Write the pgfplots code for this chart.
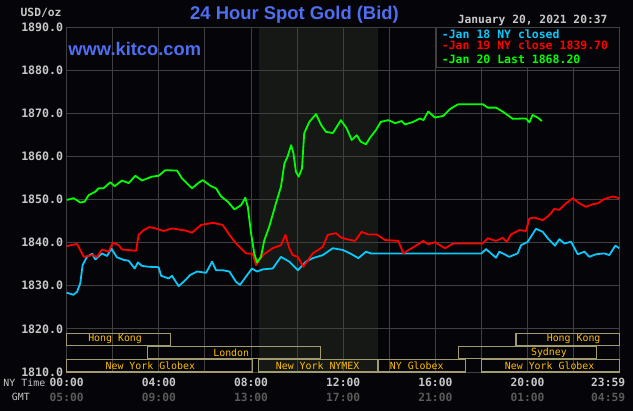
\documentclass[border=0pt]{standalone}
\usepackage{pgfplots}
\pgfplotsset{compat=1.18}
\usepackage{fontspec}
\setmainfont{Liberation Sans}
\newfontfamily\pixfont{DejaVu Sans Mono}
\definecolor{bg}{RGB}{5,4,8}
\definecolor{pitbg}{RGB}{21,24,21}
\definecolor{gridc}{RGB}{64,64,64}
\definecolor{lbl}{RGB}{200,200,200}
\definecolor{gmt}{RGB}{90,90,90}
\definecolor{ttl}{RGB}{80,110,240}
\definecolor{cy}{RGB}{10,200,250}
\definecolor{rd}{RGB}{255,0,0}
\definecolor{gn}{RGB}{0,255,0}
\definecolor{band}{RGB}{160,156,112}
\definecolor{bandtxt}{RGB}{255,190,0}
\tikzset{bl/.style={text=bandtxt, font=\pixfont\fontsize{9.9}{11}\selectfont, inner sep=0pt},
  lg/.style={anchor=west, inner sep=0pt, font=\pixfont\bfseries\fontsize{11.5}{13}\selectfont}}
\begin{document}
\begin{tikzpicture}
\fill[bg] (-66.7pt,-39pt) rectangle (566.3pt,372pt);
\path[use as bounding box] (-66.7pt,-39pt) rectangle (566.3pt,372pt);
\fill[pitbg] (192.0pt,0pt) rectangle (311.06pt,345pt);
\begin{axis}[at={(0pt,0pt)}, anchor=south west, scale only axis,
  width=553pt, height=345pt,
  xmin=0, xmax=24, ymin=1810, ymax=1890,
  clip=false,
  axis line style={gridc, line width=0.9pt},
  major tick length=0pt, tick style={draw=none},
  grid=major, major grid style={gridc, line width=0.9pt},
  xtick={0,2,...,24}, xticklabels={},
  ytick={1810,1820,...,1890},
  yticklabel style={font=\pixfont\bfseries\fontsize{11.6}{13}\selectfont, text=lbl,
    /pgf/number format/fixed, /pgf/number format/fixed zerofill, /pgf/number format/precision=1,
    /pgf/number format/1000 sep={}, /pgf/number format/assume math mode=true},
  xticklabel style={align=center, font=\pixfont\bfseries\fontsize{11.3}{14.3}\selectfont, yshift=-3pt},
  extra x ticks={0,4,8,12,16,20,23.5},
  extra x tick labels={{\textcolor{lbl}{00:00}\\\textcolor{gmt}{05:00}},
    {\textcolor{lbl}{04:00}\\\textcolor{gmt}{09:00}},
    {\textcolor{lbl}{08:00}\\\textcolor{gmt}{13:00}},
    {\textcolor{lbl}{12:00}\\\textcolor{gmt}{17:00}},
    {\textcolor{lbl}{16:00}\\\textcolor{gmt}{21:00}},
    {\textcolor{lbl}{20:00}\\\textcolor{gmt}{01:00}},
    {\textcolor{lbl}{23:59}\\\textcolor{gmt}{04:59}}},
  extra x tick style={grid=none, major tick length=0pt},
  axis background/.style={fill=none},
  every axis plot/.append style={line width=1.8pt, line join=round},
]
\addplot[cy] coordinates {
(0,1828.4) (0.29,1827.9) (0.45,1828.6) (0.59,1830.6) (0.69,1834.8) (0.88,1836.7)
(1.1,1837.4) (1.24,1836.1) (1.53,1837.5) (1.75,1836.9) (1.94,1838.6) (2.18,1836.6)
(2.47,1836.0) (2.69,1835.8) (2.95,1834.0) (3.09,1835.4) (3.27,1834.6) (3.56,1834.4)
(3.99,1834.3) (4.1,1832.3) (4.43,1831.7) (4.57,1832.3) (4.86,1829.9) (5.15,1831.3)
(5.36,1832.5) (5.66,1833.3) (6.05,1833.0) (6.31,1835.6) (6.48,1833.6) (6.77,1833.6)
(7.06,1833.3) (7.35,1830.9) (7.52,1830.2) (7.78,1832.1) (8.04,1834.0) (8.26,1833.3)
(8.51,1833.8) (8.94,1834.0) (9.3,1836.7) (9.66,1835.6) (10.03,1833.6) (10.39,1835.6)
(10.68,1836.4) (11.11,1837.1) (11.55,1838.7) (11.98,1838.3) (12.3,1837.5) (12.66,1836.4)
(12.99,1837.9) (13.2,1837.5) (18.0,1837.5) (18.2,1838.5) (18.63,1836.5) (18.78,1837.9)
(19.21,1836.7) (19.57,1837.5) (19.72,1839.4) (20.01,1840.2) (20.15,1841.4) (20.37,1843.2)
(20.66,1842.5) (20.88,1841.0) (21.19,1839.3) (21.38,1840.8) (21.6,1839.8) (21.89,1840.2)
(22.18,1837.3) (22.47,1837.9) (22.68,1836.7) (22.97,1837.3) (23.33,1837.5) (23.55,1837.1)
(23.81,1839.3) (23.98,1838.7)
};
\addplot[rd] coordinates {
(0,1839.2) (0.45,1839.7) (0.74,1836.7) (1.1,1837.1) (1.32,1836.7) (1.53,1838.4)
(1.82,1837.9) (2.0,1840.0) (2.26,1839.4) (2.4,1838.4) (3.01,1838.1) (3.12,1841.8)
(3.34,1842.9) (3.59,1843.6) (3.85,1843.3) (4.21,1842.7) (4.57,1843.3) (5.15,1842.8)
(5.44,1842.3) (5.83,1844.1) (6.34,1844.6) (6.77,1844.1) (7.06,1841.8) (7.35,1839.8)
(7.78,1837.5) (8.07,1837.4) (8.22,1834.8) (8.51,1837.1) (8.94,1838.7) (9.3,1839.4)
(9.49,1841.8) (9.66,1838.7) (9.81,1837.1) (10.03,1836.7) (10.27,1834.4) (10.68,1837.5)
(11.11,1839.0) (11.33,1841.8) (11.69,1842.2) (11.9,1841.2) (12.15,1840.8) (12.51,1840.4)
(12.8,1842.5) (13.09,1841.9) (13.45,1841.9) (13.82,1840.6) (14.39,1840.4) (14.61,1837.5)
(14.97,1838.7) (15.48,1840.4) (15.69,1839.6) (15.98,1840.1) (16.42,1838.7) (16.78,1839.8)
(18.06,1839.8) (18.27,1841.0) (18.63,1840.4) (18.92,1841.1) (19.1,1840.2) (19.28,1841.9)
(19.65,1842.9) (19.93,1842.7) (20.08,1845.6) (20.3,1845.8) (20.66,1845.2) (20.95,1846.4)
(21.16,1847.8) (21.38,1847.6) (21.67,1849.1) (21.96,1850.3) (22.25,1849.1) (22.54,1848.3)
(22.83,1848.9) (23.05,1849.1) (23.33,1850.1) (23.7,1850.7) (23.98,1850.3)
};
\addplot[gn] coordinates {
(0,1849.9) (0.3,1850.3) (0.59,1849.3) (0.78,1849.5) (0.95,1851.0) (1.24,1851.8)
(1.39,1852.6) (1.6,1852.6) (1.89,1854.0) (2.08,1853.1) (2.4,1854.4) (2.69,1853.8)
(2.98,1855.5) (3.27,1854.4) (3.7,1855.3) (3.99,1855.5) (4.28,1856.8) (4.79,1856.7)
(5.0,1854.9) (5.44,1852.6) (5.73,1853.9) (5.9,1854.5) (6.26,1853.1) (6.48,1852.6)
(6.7,1850.7) (6.99,1849.5) (7.28,1847.7) (7.57,1848.7) (7.75,1850.4) (7.86,1848.3)
(8.0,1842.2) (8.14,1837.5) (8.26,1835.4) (8.43,1836.7) (8.58,1840.6) (8.79,1843.7)
(9.08,1849.1) (9.3,1853.0) (9.45,1858.4) (9.59,1860.0) (9.74,1862.6) (9.84,1860.7)
(9.95,1856.4) (10.07,1855.3) (10.21,1857.2) (10.31,1865.4) (10.53,1868.0) (10.82,1869.8)
(11.04,1867.3) (11.25,1865.7) (11.55,1865.4) (11.9,1868.4) (12.15,1866.5) (12.37,1863.8)
(12.59,1864.9) (12.76,1863.4) (12.99,1862.8) (13.16,1864.3) (13.42,1866.1) (13.63,1868.0)
(13.96,1868.4) (14.25,1867.7) (14.54,1868.2) (14.68,1867.4) (15.04,1868.0) (15.33,1868.8)
(15.48,1868.4) (15.69,1870.4) (15.98,1869.0) (16.35,1869.4) (16.64,1871.0) (17.0,1872.1)
(18.06,1872.1) (18.27,1871.3) (18.63,1871.3) (18.92,1870.4) (19.36,1868.7) (19.93,1868.8)
(20.08,1867.9) (20.22,1869.6) (20.44,1869.0) (20.62,1868.2)
};
\draw[band, line width=1.1pt] (axis cs:0,1816.1) rectangle (axis cs:4.5,1819);
\draw[band, line width=1.1pt] (axis cs:19.5,1816.1) rectangle (axis cs:24,1819);
\draw[band, line width=1.1pt] (axis cs:3.5,1813.1) rectangle (axis cs:11,1816);
\draw[band, line width=1.1pt] (axis cs:17,1813.1) rectangle (axis cs:23,1816);
\draw[band, line width=1.1pt] (axis cs:0,1810) rectangle (axis cs:8.05,1813);
\draw[band, line width=1.1pt] (axis cs:8.33,1810) rectangle (axis cs:13.5,1813);
\draw[band, line width=1.1pt] (axis cs:13.55,1810) rectangle (axis cs:17.3,1813);
\draw[band, line width=1.1pt] (axis cs:18,1810) rectangle (axis cs:24,1813);
\node[bl] at (axis cs:2.1,1817.55) {Hong Kong};
\node[bl] at (axis cs:22.0,1817.55) {Hong Kong};
\node[bl] at (axis cs:7.14,1814.55) {London};
\node[bl] at (axis cs:20.93,1814.55) {Sydney};
\node[bl] at (axis cs:3.63,1811.5) {New York Globex};
\node[bl] at (axis cs:10.89,1811.5) {New York NYMEX};
\node[bl] at (axis cs:15.19,1811.5) {NY Globex};
\node[bl] at (axis cs:20.96,1811.5) {New York Globex};
\end{axis}
\filldraw[fill=bg, draw=gridc, line width=0.9pt] (369.3pt,305pt) rectangle (552.3pt,345pt);
\node[lg, text=cy] at (375pt,338pt) {-Jan 18 NY closed};
\node[lg, text=rd] at (375pt,326.3pt) {-Jan 19 NY close 1839.70};
\node[lg, text=gn] at (375pt,312.7pt) {-Jan 20 Last 1868.20};
\node[text=ttl, font=\bfseries\fontsize{18.4}{20}\selectfont, inner sep=0pt] at (227.8pt,357pt) {24 Hour Spot Gold (Bid)};
\node[text=ttl, font=\bfseries\fontsize{18.3}{20}\selectfont, inner sep=0pt, anchor=west] at (1.6pt,322.7pt) {www.kitco.com};
\node[text=lbl, font=\pixfont\bfseries\fontsize{11.3}{13}\selectfont, inner sep=0pt, anchor=east] at (541pt,352pt) {January 20, 2021 20:37};
\node[text=lbl, font=\pixfont\bfseries\fontsize{11.3}{13}\selectfont, inner sep=0pt, anchor=east] at (-5pt,358.7pt) {USD/oz};
\node[text=lbl, font=\pixfont\fontsize{9.9}{11}\selectfont, inner sep=0pt, anchor=base west] at (-63.4pt,-14.7pt) {NY Time};
\node[text=lbl, font=\pixfont\fontsize{9.9}{11}\selectfont, inner sep=0pt, anchor=base west] at (-55pt,-29pt) {GMT};
\end{tikzpicture}
\end{document}
